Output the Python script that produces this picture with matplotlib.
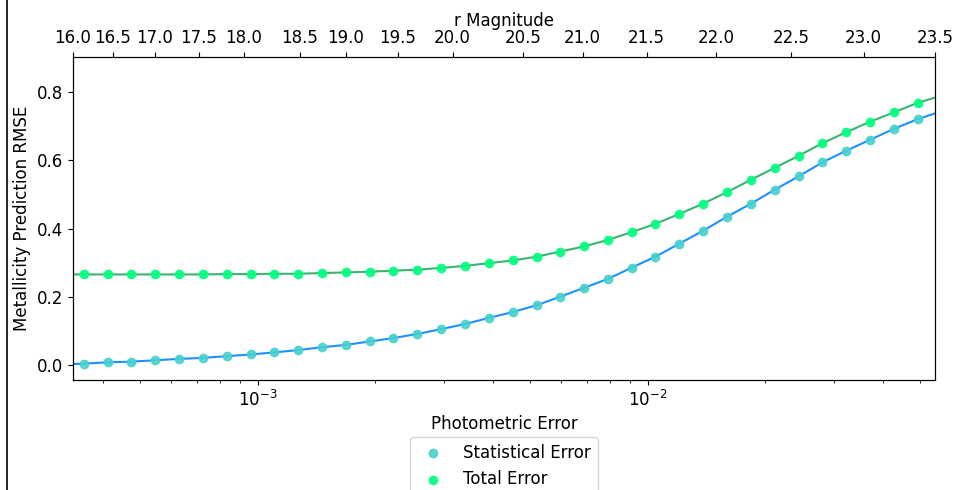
import matplotlib
matplotlib.use("Agg")
import matplotlib.pyplot as plt
from matplotlib.lines import Line2D
from matplotlib.ticker import NullLocator

plt.rcParams['font.size'] = 12

# photometric error of each sample point
phot_err = [3.58e-4, 4.12e-4, 4.74e-4, 5.46e-4, 6.28e-4, 7.24e-4, 8.33e-4, 9.59e-4,
            1.104e-3, 1.271e-3, 1.462e-3, 1.683e-3, 1.937e-3, 2.229e-3, 2.566e-3, 2.953e-3,
            3.40e-3, 3.92e-3, 4.51e-3, 5.19e-3, 5.97e-3, 6.87e-3, 7.91e-3, 9.10e-3,
            1.047e-2, 1.205e-2, 1.387e-2, 1.598e-2, 1.840e-2, 2.118e-2, 2.438e-2, 2.806e-2,
            3.23e-2, 3.72e-2, 4.28e-2, 4.92e-2]

# rmse values
stat_err = [0.005, 0.009, 0.011, 0.015, 0.019, 0.022, 0.027, 0.032,
            0.038, 0.045, 0.053, 0.060, 0.070, 0.080, 0.092, 0.106,
            0.121, 0.139, 0.156, 0.176, 0.201, 0.227, 0.253, 0.286,
            0.318, 0.356, 0.394, 0.435, 0.473, 0.514, 0.553, 0.594,
            0.628, 0.660, 0.692, 0.720]
total_err = [0.266, 0.266, 0.266, 0.266, 0.266, 0.266, 0.267, 0.267,
             0.268, 0.268, 0.270, 0.272, 0.274, 0.277, 0.280, 0.285,
             0.291, 0.299, 0.307, 0.318, 0.333, 0.348, 0.367, 0.390,
             0.414, 0.443, 0.473, 0.507, 0.543, 0.578, 0.613, 0.650,
             0.682, 0.713, 0.740, 0.768]

# fitted curve values at the plot edges
edge_err = [3.36e-4, 5.45e-2]
stat_edge = [0.004, 0.737]
total_edge = [0.266, 0.783]

# r magnitude ticks for the top axis (and where they land in photometric error)
mag_labels = ["16.0", "16.5", "17.0", "17.5", "18.0", "18.5", "19.0", "19.5",
              "20.0", "20.5", "21.0", "21.5", "22.0", "22.5", "23.0", "23.5"]
mag_err = [3.36e-4, 4.25e-4, 5.44e-4, 7.06e-4, 9.21e-4, 1.28e-3, 1.68e-3, 2.29e-3,
           3.16e-3, 4.78e-3, 6.81e-3, 9.94e-3, 1.50e-2, 2.33e-2, 3.58e-2, 5.45e-2]

fig = plt.figure(figsize=(9.54, 4.9), dpi=100)
ax = fig.add_axes([0.0765, 0.2245, 0.9035, 0.6592])

# smooth curves
line_x = [edge_err[0]] + phot_err + [edge_err[1]]
ax.plot(line_x, [stat_edge[0]] + stat_err + [stat_edge[1]], color='#1e90ff', lw=1.5, zorder=2)
ax.plot(line_x, [total_edge[0]] + total_err + [total_edge[1]], color='#3cb371', lw=1.5, zorder=2)

# points
ax.scatter(phot_err, stat_err, color='mediumturquoise', s=36, alpha=0.9, zorder=3, label='Statistical Error')
ax.scatter(phot_err, total_err, color='springgreen', s=36, alpha=0.9, zorder=3, label='Total Error')

ax.set_xscale('log')
ax.set_xlim(mag_err[0], mag_err[-1])
ax.set_ylim(-0.0427, 0.902)
ax.set_yticks([0.0, 0.2, 0.4, 0.6, 0.8])
ax.set_xlabel('Photometric Error')
ax.set_ylabel('Metallicity Prediction RMSE')

# top axis in r magnitude
ax2 = ax.twiny()
ax2.set_xscale('log')
ax2.set_xlim(ax.get_xlim())
ax2.set_xticks(mag_err)
ax2.set_xticklabels(mag_labels)
ax2.xaxis.set_minor_locator(NullLocator())
ax2.set_xlabel('r Magnitude', labelpad=2)

ax.legend(loc='upper center', bbox_to_anchor=(0.5, -0.151), ncol=1)

# border line at the left of the screenshot
fig.add_artist(Line2D([7 / 954, 7 / 954], [0, 1], color='black', lw=1.2))

fig.savefig('out.png', dpi=100)
